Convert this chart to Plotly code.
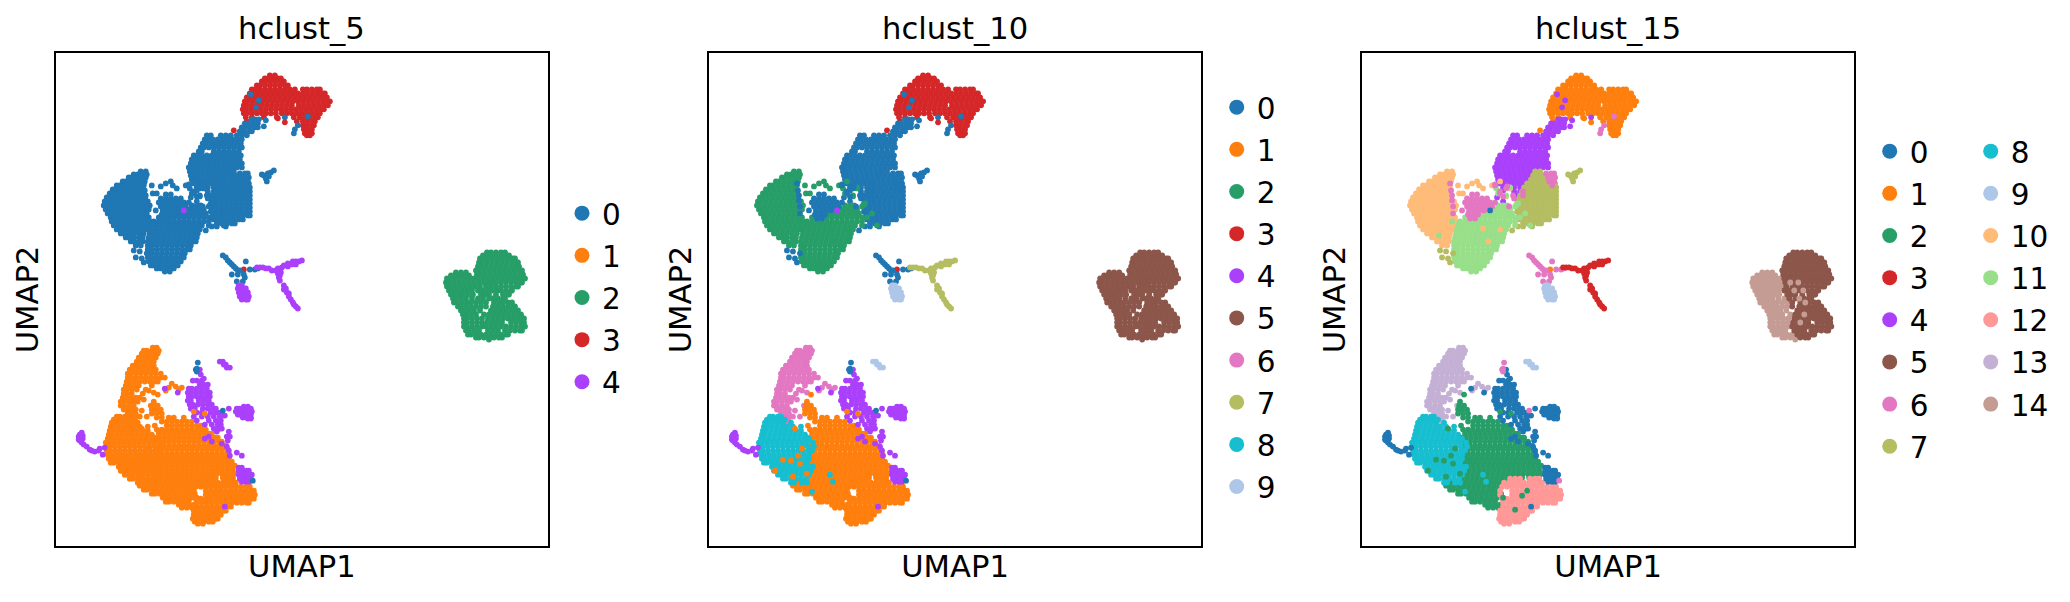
import plotly.graph_objects as go
from plotly.subplots import make_subplots

red_top = [
    (470, [214, 219]),
    (467, [209, 212, 217, 222, 225]),
    (464, [206, 210, 215, 220, 225, 228]),
    (460, [201, 204, 209, 214, 219, 224, 229, 232]),
    (456, [196, 199, 204, 209, 214, 219, 224, 229, 234, 239, 247, 251, 256, 261, 264]),
    (452, [194, 197, 202, 207, 212, 217, 222, 227, 232, 237, 242, 247, 252, 257, 262, 267, 269]),
    (448, [191, 194, 199, 204, 209, 214, 219, 224, 229, 234, 239, 244, 249, 254, 259, 264, 269, 271]),
    (444, [189, 192, 197, 202, 207, 212, 217, 222, 227, 232, 237, 242, 247, 252, 257, 262, 267, 272, 274]),
    (440, [188, 191, 196, 201, 206, 211, 216, 221, 226, 231, 236, 243, 248, 253, 258, 263, 268, 272]),
    (436, [187, 190, 195, 200, 205, 210, 215, 220, 225, 230, 235, 240, 245, 250, 255, 260, 265, 268]),
    (432, [188, 191, 196, 201, 206, 210, 215, 220, 226, 231, 236, 241, 246, 251, 256, 261, 264]),
    (428, [190, 196, 208, 221, 238, 244, 249, 254, 259, 262]),
    (424, [191, 241, 247, 252, 257, 259]),
    (423, [229]),
    (427, [222]),
    (420, [247, 251, 256, 258]),
    (416, [248, 252, 256]),
    (415, [178]),
    (412, [249, 253, 256]),
    (410, [251, 254]),
    (276, [188]),
]
arm_upper = [
    (426, [196, 199, 203]),
    (422, [189, 192, 197, 202]),
    (418, [186, 189, 194, 199, 202]),
    (414, [184, 188, 193, 196]),
    (410, [151, 155, 165, 170, 175, 181, 186, 191]),
    (406, [149, 152, 157, 162, 167, 172, 177, 182, 186]),
    (402, [147, 150, 155, 160, 165, 170, 175, 180, 185]),
    (398, [145, 148, 153, 158, 163, 168, 173, 178, 183, 186]),
    (394, [143, 146, 158, 163, 168, 173, 178, 183]),
    (390, [138, 141, 146, 151, 156, 161, 166, 171, 176, 181, 185]),
    (386, [136, 139, 144, 149, 154, 159, 164, 169, 174, 179, 184]),
    (382, [135, 138, 143, 148, 153, 158, 163, 168, 173, 178, 183, 186]),
    (378, [133, 136, 141, 146, 151, 156, 161, 166, 171, 176, 181, 186]),
    (374, [134, 137, 142, 147, 152, 157, 162, 167, 172]),
    (370, [135, 138, 143, 148, 153, 158, 163, 168]),
    (366, [136, 139, 144, 149, 154, 159, 164]),
    (362, [138, 141, 146, 151, 156, 161]),
    (358, [141, 146, 152, 158, 164]),
    (355, [141]),
    (354, [152, 158, 163]),
    (350, [155, 161]),
    (348, [135]),
    (346, [165]),
    (344, [141]),
    (333, [146]),
]
lobe_right = [
    (374, [173, 178]),
    (370, [171, 176, 181]),
    (366, [169, 174, 179, 184, 189]),
    (362, [165, 170, 175, 180, 185, 190, 193]),
    (358, [162, 167, 172, 177, 182, 187, 192, 194]),
    (354, [160, 165, 170, 175, 180, 185, 190, 194]),
    (350, [158, 163, 168, 173, 178, 183, 188, 193, 194]),
    (346, [156, 161, 166, 171, 176, 181, 186, 191, 194]),
    (342, [155, 160, 165, 170, 175, 180, 185, 190, 194]),
    (338, [156, 161, 166, 171, 176, 181, 186, 191, 194]),
    (334, [155, 160, 165, 170, 175, 180, 185, 190, 194]),
    (330, [157, 162, 167, 172, 177, 182, 187, 192, 194]),
    (326, [158, 163, 168, 173, 178, 183, 187]),
    (322, [161, 166, 171, 176, 179]),
    (319, [156, 161, 170]),
    (315, [150]),
]
patch_right = [
    (372, [184, 189, 192]),
    (368, [186, 190, 193]),
    (364, [187, 192]),
    (360, [190]),
]
bridge = [
    (361, [133]),
    (359, [145]),
    (354, [138, 161]),
    (351, [110, 115]),
    (350, [151]),
    (349, [141]),
    (347, [105, 110, 115, 120, 125, 152]),
    (343, [103, 108, 113, 118, 123, 128, 133]),
    (339, [105, 110, 115, 120, 125, 130, 91, 147]),
    (335, [100, 107, 112, 117, 122]),
    (331, [106, 111, 116]),
    (327, [108, 113]),
    (362, [88]),
    (355, [89]),
    (350, [90, 161]),
    (345, [90]),
    (332, [91]),
    (360, [133]),
    (352, [138]),
    (357, [144]),
]
lobe_left = [
    (374, [85, 90]),
    (371, [78, 82, 87, 91]),
    (368, [73, 76, 81, 86, 90]),
    (364, [67, 70, 75, 80, 85, 89, 115, 138]),
    (362, [110]),
    (360, [61, 64, 69, 74, 79, 84, 88, 96, 117, 130]),
    (359, [105]),
    (357, [121, 148]),
    (356, [57, 60, 65, 70, 75, 80, 85]),
    (352, [54, 57, 62, 67, 72, 77, 82, 87, 97, 101]),
    (349, [144]),
    (348, [51, 54, 59, 64, 69, 74, 79, 84, 89]),
    (344, [49, 52, 57, 62, 67, 72, 77, 82, 87, 92]),
    (340, [48, 51, 56, 61, 66, 71, 76, 81, 86, 91, 94]),
    (336, [50, 53, 58, 63, 68, 73, 78, 83, 88, 93]),
    (332, [52, 55, 60, 65, 70, 75, 80, 85, 90]),
    (328, [55, 58, 63, 68, 73, 78, 83, 88, 93]),
    (324, [56, 59, 64, 69, 74, 79, 84, 89, 94]),
    (320, [58, 61, 66, 71, 76, 81, 86, 91]),
    (316, [61, 64, 69, 74, 79, 84, 89, 93]),
    (312, [65, 68, 73, 78, 83, 88]),
    (308, [70, 73, 78, 83, 87]),
    (304, [75, 78, 83, 87]),
    (300, [80, 85, 95]),
]
lobe_low = [
    (358, [148]),
    (357, [134]),
    (352, [136]),
    (350, [144]),
    (342, [156]),
    (340, [136, 141, 145, 154]),
    (339, [153]),
    (336, [119, 124, 129, 134, 139, 144, 148]),
    (332, [115, 120, 125, 130, 135, 140, 145, 150, 163]),
    (328, [103, 108, 113, 118, 123, 128, 133, 138, 143, 148, 153, 158]),
    (324, [98, 103, 108, 113, 118, 123, 128, 133, 138, 143, 148, 153]),
    (320, [96, 101, 106, 111, 116, 121, 126, 131, 136, 141, 146, 153, 168]),
    (316, [95, 100, 105, 110, 115, 120, 125, 130, 135, 140, 144]),
    (312, [94, 99, 104, 109, 114, 119, 124, 129, 134, 139, 142]),
    (308, [93, 98, 103, 108, 113, 118, 123, 128, 133, 138, 141]),
    (304, [92, 97, 102, 107, 112, 117, 122, 127, 132, 137, 140]),
    (300, [92, 96, 101, 106, 111, 116, 121, 126, 131, 135]),
    (296, [92, 96, 101, 106, 111, 116, 121, 126, 131, 134]),
    (292, [92, 96, 101, 106, 111, 116, 121, 126, 129]),
    (288, [92, 95, 100, 105, 110, 115, 120, 125, 128]),
    (284, [93, 96, 101, 106, 111, 116, 121, 125]),
    (280, [95, 98, 103, 108, 113, 118, 122]),
    (277, [101, 105, 110, 115, 118]),
    (274, [109, 114]),
]
satellite = [
    (375, [218]),
    (373, [215]),
    (372, [212]),
    (371, [206]),
    (370, [208]),
    (369, [213]),
    (367, [210]),
    (364, [211]),
    (295, [78]),
    (294, [84]),
    (292, [91]),
    (288, [80]),
    (287, [86]),
    (283, [88]),
]
tripod_stem = [
    (290, [167]),
    (288, [170]),
    (285, [172]),
    (283, [174]),
    (281, [176]),
    (279, [178]),
    (277, [180, 202]),
    (276, [194, 199]),
    (275, [182, 184]),
    (284, [190]),
    (271, [176, 182, 188]),
    (268, [189]),
    (264, [181, 187]),
]
tripod_arms = [
    (285, [246]),
    (284, [243, 240, 237]),
    (282, [232]),
    (281, [240, 236]),
    (280, [228]),
    (279, [232]),
    (278, [201, 204, 207, 226]),
    (277, [210, 213, 222]),
    (275, [216, 224, 220]),
    (273, [225]),
    (272, [222]),
    (270, [224]),
    (268, [223]),
    (265, [224]),
    (260, [228]),
    (257, [230]),
    (256, [228]),
    (253, [231]),
    (252, [233]),
    (249, [233]),
    (246, [235]),
    (243, [237]),
    (241, [238]),
    (239, [240]),
    (237, [242]),
]
tripod_blob = [
    (260, [183, 186]),
    (257, [182, 184, 188, 190]),
    (253, [183, 185, 189, 192]),
    (249, [184, 187, 191, 193]),
    (246, [186, 190, 192]),
    (184, [164, 167]),
    (181, [168, 170]),
    (178, [171, 174]),
]
ball_left = [
    (273, [400, 405, 410]),
    (270, [395, 398, 403, 408, 413]),
    (267, [391, 394, 399, 404, 409, 414, 418]),
    (263, [390, 393, 398, 403, 408, 413, 418]),
    (259, [391, 394, 399, 404, 409, 414, 419]),
    (255, [393, 396, 401, 406, 411, 416]),
    (251, [395, 398, 403, 407, 412, 417]),
    (247, [397, 400, 405, 410, 416, 422]),
    (243, [398, 401, 406, 411, 415, 420, 425]),
    (239, [402, 405, 410, 415, 420, 425]),
    (235, [405, 408, 413, 418, 424]),
    (231, [407, 410, 415, 420, 428]),
    (227, [408, 411, 416, 421, 426]),
    (223, [408, 411, 416, 421, 426]),
    (219, [408, 411, 416, 421, 426]),
    (215, [410, 413, 418, 423]),
    (211, [412, 415, 420, 425, 430]),
    (208, [420, 423, 428, 433]),
    (206, [433]),
]
ball_right = [
    (293, [431, 435, 440, 445, 449]),
    (290, [427, 430, 435, 440, 445, 450, 453]),
    (287, [424, 427, 432, 437, 442, 447, 452, 457, 459]),
    (283, [423, 426, 431, 436, 441, 446, 451, 456, 461, 462]),
    (279, [422, 425, 430, 435, 440, 445, 450, 455, 460, 463]),
    (275, [420, 423, 428, 433, 438, 443, 448, 453, 458, 463, 466]),
    (271, [421, 424, 429, 434, 439, 444, 449, 454, 459, 464, 467]),
    (267, [422, 427, 432, 437, 442, 447, 452, 457, 462, 467, 469]),
    (263, [423, 432, 440, 445, 450, 455, 460, 465, 466]),
    (259, [424, 430, 435, 440, 445, 450, 455, 460, 462]),
    (255, [422, 427, 436, 441, 445, 450, 455, 456]),
    (251, [425, 429, 433, 440, 447, 452, 453]),
    (247, [427, 433, 438, 442, 447, 449]),
    (243, [430, 438, 447, 452, 456]),
    (239, [430, 437, 442, 447, 452, 457, 459]),
    (235, [435, 440, 445, 450, 455, 460, 462]),
    (231, [433, 438, 443, 448, 453, 458, 463, 465]),
    (227, [432, 437, 442, 447, 452, 457, 462, 467, 468]),
    (223, [431, 436, 441, 446, 455, 460, 465, 468]),
    (219, [430, 435, 440, 445, 450, 455, 460, 465, 469]),
    (215, [432, 437, 442, 449, 454, 459, 464, 466]),
    (211, [435, 440, 445, 450, 452]),
    (208, [438, 443, 446]),
]
ball_mixed = [
    (263, [428, 436]),
    (255, [432, 441]),
    (247, [437]),
    (243, [443]),
    (231, [442]),
    (223, [438]),
]
streak_up = [
    (198, [97, 101]),
    (195, [88, 91, 96, 101, 103]),
    (192, [86, 89, 94, 99, 102]),
    (188, [83, 86, 91, 96, 100]),
    (184, [81, 84, 89, 94, 98]),
    (180, [77, 80, 85, 90, 95, 98]),
    (176, [74, 77, 82, 87, 92, 97, 100]),
    (172, [72, 75, 80, 85, 90, 95, 100, 105]),
    (168, [72, 75, 80, 85, 90, 95, 100, 105, 109]),
    (164, [71, 74, 79, 84, 89, 94, 99, 102]),
    (162, [116]),
    (160, [70, 73, 78, 83, 96]),
    (159, [120]),
    (158, [113, 126]),
    (156, [68, 71, 76, 81, 90, 123]),
    (155, [110, 93]),
    (153, [98]),
    (152, [68, 71, 76, 87]),
    (148, [67, 70, 75, 80, 84]),
    (146, [88]),
    (144, [65, 68, 73, 78, 82]),
    (142, [98]),
    (140, [65, 68, 73, 78, 95]),
    (136, [68, 71, 76, 80]),
    (135, [86]),
    (132, [72, 76, 80]),
    (129, [84, 91]),
    (128, [74, 78, 80]),
    (124, [75, 79]),
    (120, [76, 79]),
    (114, [74]),
]
fan_core = [
    (140, [97, 102]),
    (136, [96, 100, 105]),
    (132, [96, 101, 106]),
    (128, [101, 106, 113, 118, 128]),
    (124, [106, 111, 116, 121, 126, 131, 136]),
    (120, [99, 111, 116, 121, 126, 131, 136, 141, 145]),
    (116, [101, 106, 111, 116, 121, 126, 131, 136, 141, 146, 150]),
    (112, [103, 108, 113, 118, 123, 128, 133, 138, 143, 148, 153, 156]),
    (108, [99, 104, 109, 114, 119, 124, 129, 134, 139, 144, 149, 154, 159, 162]),
    (104, [98, 103, 108, 113, 118, 123, 128, 133, 138, 143, 148, 153, 158, 163, 166]),
    (100, [103, 108, 113, 118, 123, 128, 133, 138, 143, 148, 153, 158, 163, 168, 170]),
    (96, [101, 106, 111, 116, 121, 126, 131, 136, 141, 146, 151, 156, 161, 166, 171, 172]),
    (92, [101, 106, 111, 116, 121, 126, 131, 136, 141, 146, 151, 156, 161, 166, 171, 173]),
    (88, [100, 105, 110, 115, 120, 125, 130, 135, 140, 145, 150, 155, 160, 165, 170, 173]),
    (84, [103, 108, 113, 118, 123, 128, 133, 138, 143, 148, 153, 158, 163, 168, 173, 176]),
    (80, [101, 106, 111, 116, 121, 126, 131, 136, 141, 146, 151, 156, 161, 166, 171, 176, 179]),
    (76, [102, 107, 112, 117, 122, 127, 132, 137, 142, 147, 152, 157, 162, 167, 172, 177]),
    (72, [101, 106, 111, 116, 121, 126, 131, 136, 141, 146, 151, 156, 161, 166, 171, 176, 179]),
    (68, [100, 105, 110, 115, 120, 125, 130, 135, 140, 145, 150, 155, 160, 167, 172, 177]),
    (64, [86, 89, 94, 99, 104, 109, 114, 119, 124, 129, 134, 139, 144]),
    (60, [84, 87, 92, 97, 102, 107, 112, 117, 122, 127, 132, 137]),
    (56, [88, 91, 96, 101, 106, 111, 116, 121, 126, 131, 136]),
    (52, [96, 99, 104, 109, 114, 119, 124, 129, 134, 139]),
    (48, [107, 110, 115, 120, 125, 130, 135]),
    (44, [110, 113, 118, 123, 128, 133]),
    (41, [123, 128, 133, 138]),
    (38, [126, 131, 136]),
]
fan_left = [
    (129, [61, 64, 69, 72]),
    (126, [58, 61, 66, 71, 76]),
    (123, [56, 59, 64, 69, 74, 82]),
    (119, [55, 58, 63, 68, 73, 78, 84, 92]),
    (115, [54, 57, 62, 67, 72, 77, 82, 87, 92]),
    (111, [53, 56, 61, 66, 71, 76, 81, 86, 91, 96]),
    (107, [52, 55, 60, 65, 70, 75, 80, 85, 90, 95, 100]),
    (103, [50, 53, 58, 63, 68, 73, 78, 83, 88, 93, 98, 104]),
    (99, [51, 54, 59, 64, 69, 74, 79, 84, 89, 94, 99, 105]),
    (95, [51, 54, 59, 64, 69, 74, 79, 84, 89, 94, 99, 103]),
    (91, [52, 55, 60, 65, 70, 75, 80, 85, 90, 95, 100]),
    (87, [53, 56, 61, 66, 71, 76, 81, 86, 91, 96, 100]),
    (83, [55, 58, 63, 68, 73, 78, 83, 88, 93, 98]),
    (79, [63, 66, 71, 76, 81, 86, 91, 96, 100, 104]),
    (75, [65, 68, 73, 78, 83, 88, 93, 98, 102]),
    (71, [69, 72, 77, 82, 87, 92, 97, 100, 121]),
    (67, [74, 77, 82, 87, 92, 97]),
    (64, [124]),
    (63, [82, 85, 93, 98]),
    (54, [103]),
]
fan_tip = [
    (67, [148, 153, 158, 168, 173, 177]),
    (63, [142, 147, 152, 157, 162, 167, 172, 177, 180]),
    (59, [140, 145, 150, 155, 160, 165, 170, 175, 180, 185, 190, 194]),
    (55, [138, 150, 155, 160, 165, 170, 175, 180, 185, 190, 195, 198]),
    (51, [138, 150, 152, 157, 162, 167, 172, 177, 182, 187, 192, 197, 199]),
    (47, [140, 145, 150, 155, 160, 165, 170, 175, 180, 185, 190, 195, 198]),
    (43, [141, 146, 151, 156, 161, 166, 171, 176, 181, 186, 191, 193]),
    (39, [141, 146, 151, 156, 161, 166, 171, 175]),
    (35, [138, 143, 148, 153, 158, 163, 168, 170]),
    (31, [138, 141, 146, 151, 156, 161, 165]),
    (27, [137, 140, 145, 150, 155, 160, 162]),
    (24, [139, 143, 148, 153, 157]),
    (22, [142, 147]),
]
crest = [
    (176, [144]),
    (171, [145]),
    (167, [148]),
    (165, [137, 141, 146]),
    (161, [144, 148, 152]),
    (157, [133, 136, 141, 146, 151, 109]),
    (153, [132, 135, 140, 145, 150, 154, 122]),
    (149, [133, 136, 141, 146, 151, 154]),
    (145, [132, 135, 143, 148, 153]),
    (141, [134, 137, 142, 147, 152, 156]),
    (137, [135, 139, 147, 152, 157, 160, 173]),
    (133, [141, 146, 155, 160, 163]),
    (130, [167, 169]),
    (129, [138, 146, 152, 158, 164]),
    (125, [141, 153, 160, 165]),
    (121, [149, 156, 162, 165]),
    (117, [158, 162, 166]),
    (335, [128]),
]
clump = [
    (139, [188, 192]),
    (137, [181, 184, 188, 192, 195]),
    (134, [180, 182, 186, 190, 194, 196]),
    (131, [182, 184, 188, 192, 195]),
    (128, [187, 191, 195]),
    (127, [192, 195]),
]
spray = [
    (117, [164]),
    (114, [161, 173]),
    (109, [153, 171, 174]),
    (107, [149]),
    (105, [172]),
    (104, [156]),
    (102, [166]),
    (99, [171]),
    (95, [173]),
    (93, [181]),
    (90, [174, 186]),
    (78, [183, 186]),
    (75, [183, 187, 191, 193]),
    (71, [183, 186, 190, 194, 196]),
    (67, [184, 188, 192, 195]),
    (64, [186, 190, 193]),
    (39, [169]),
]
tail = [
    (113, [26]),
    (111, [24]),
    (110, [27]),
    (109, [23]),
    (108, [25]),
    (107, [27]),
    (106, [23]),
    (105, [24]),
    (103, [26]),
    (101, [28]),
    (99, [31]),
    (98, [49]),
    (97, [44]),
    (96, [34]),
    (95, [36, 43]),
    (94, [39]),
    (91, [47]),
]
crest_tip = [
    (183, [142]),
    (177, [141]),
    (176, [140]),
    (174, [141]),
    (135, [167]),
    (65, [197]),
]
strays_arm = [
    (451, [195]),
    (445, [203]),
    (438, [200]),
    (428, [229]),
    (425, [210]),
    (419, [208]),
]
strays_stem = [
    (429, [252]),
    (420, [242]),
    (416, [239]),
    (412, [238]),
]
strays_low = [
    (324, [90]),
    (322, [97]),
    (310, [77]),
]
strays_left = [
    (317, [121]),
    (316, [138]),
    (304, [126]),
]
strays_core = [
    (151, [102]),
    (144, [98]),
    (134, [138]),
    (132, [149]),
    (117, [86]),
    (97, [93]),
    (90, [89]),
    (86, [74]),
    (85, [82]),
    (82, [91]),
    (75, [66]),
    (72, [98]),
    (69, [84]),
    (55, [165]),
    (50, [160]),
    (48, [141]),
    (36, [153]),
]

# (cells, hclust_5, hclust_10, hclust_15), in drawing order
regions = [
    (red_top, 3, 3, 1),
    (arm_upper, 0, 0, 4),
    (lobe_right, 0, 0, 7),
    (patch_right, 0, 0, 6),
    (lobe_left, 0, 2, 10),
    (lobe_low, 0, 2, 11),
    (bridge, 0, 0, 6),
    (satellite, 0, 0, 7),
    (tripod_stem, 0, 0, 6),
    (tripod_arms, 4, 7, 3),
    (tripod_blob, 4, 9, 9),
    (ball_left, 2, 5, 14),
    (ball_right, 2, 5, 5),
    (ball_mixed, 2, 5, 14),
    (streak_up, 1, 6, 13),
    (fan_core, 1, 1, 2),
    (fan_left, 1, 8, 8),
    (fan_tip, 1, 1, 12),
    (crest, 4, 4, 0),
    (clump, 4, 4, 0),
    (spray, 4, 4, 0),
    (tail, 4, 4, 0),
    (crest_tip, 0, 0, 6),
    (strays_arm, 0, 0, 4),
    (strays_stem, 0, 0, 6),
    (strays_low, 0, 2, 11),
    (strays_left, 0, 2, 10),
    (strays_core, 1, 1, 2),
]

panel_titles = ["hclust_5", "hclust_10", "hclust_15"]
palette = ["#1f77b4", "#ff7f0e", "#279e68", "#d62728", "#aa40fc", "#8c564b", "#e377c2", "#b5bd61",
           "#17becf", "#aec7e8", "#ffbb78", "#98df8a", "#ff9896", "#c5b0d5", "#c49c94"]
legend_labels = [
    [[0, 1, 2, 3, 4]],
    [[0, 1, 2, 3, 4, 5, 6, 7, 8, 9]],
    [[0, 1, 2, 3, 4, 5, 6, 7], [8, 9, 10, 11, 12, 13, 14]],
]

# the page keeps its 8px body margin, so the figure is that much smaller than the window
PAGE_MARGIN = 8
W, H = 2070 - PAGE_MARGIN, 602 - PAGE_MARGIN
FONT = "DejaVu Sans"
LEFTS = [x - PAGE_MARGIN for x in (55.7, 708.9, 1362.0)]
TOP, BOTTOM, SIDE = 53.3 - PAGE_MARGIN, 545.7 - PAGE_MARGIN, 492.3
# left edge and top edge of every legend box, in window pixels
LEGEND_BOXES = [[(562, 187.5)], [(1216.7, 81.5)], [(1869.7, 125.5), (1970.7, 125.5)]]
LEGEND_GAP = 0.8


def flatten(rows):
    xs, ys = [], []
    for y, row in rows:
        for x in row:
            xs.append(x)
            ys.append(y)
    return xs, ys


fig = make_subplots(rows=1, cols=3)

legend_no = 0
for col, title in enumerate(panel_titles, start=1):
    for region in regions:
        xs, ys = flatten(region[0])
        label = region[col]
        fig.add_trace(
            go.Scatter(x=xs, y=ys, mode="markers", showlegend=False, name=str(label),
                       marker=dict(size=5.8, color=palette[label], line=dict(width=0))),
            row=1, col=col
        )
    for labels, box in zip(legend_labels[col - 1], LEGEND_BOXES[col - 1]):
        legend_no += 1
        legend_id = "legend" if legend_no == 1 else f"legend{legend_no}"
        for label in labels:
            fig.add_trace(
                go.Scatter(x=[None], y=[None], mode="markers", name=str(label),
                           legend=legend_id, legendgroup=f"{col}-{label}",
                           marker=dict(size=15, color=palette[label], line=dict(width=0))),
                row=1, col=col
            )
        fig.update_layout({legend_id: dict(
            x=(box[0] - PAGE_MARGIN) / W, y=1 - (box[1] - PAGE_MARGIN) / H, xanchor="left", yanchor="top",
            bgcolor="rgba(0,0,0,0)", tracegroupgap=LEGEND_GAP, itemclick=False, itemdoubleclick=False,
            font=dict(family=FONT, size=29.5, color="black"),
        )})

    fig.update_xaxes(
        domain=[LEFTS[col - 1] / W, (LEFTS[col - 1] + SIDE) / W], range=[0, 492],
        showgrid=False, zeroline=False, showticklabels=False, ticks="",
        showline=True, mirror=True, linecolor="black", linewidth=1.5,
        title=dict(text="UMAP1", font=dict(family=FONT, size=30.6, color="black"), standoff=9),
        row=1, col=col
    )
    fig.update_yaxes(
        domain=[(H - BOTTOM) / H, (H - TOP) / H], range=[0, 492],
        showgrid=False, zeroline=False, showticklabels=False, ticks="",
        showline=True, mirror=True, linecolor="black", linewidth=1.5,
        title=dict(text="UMAP2", font=dict(family=FONT, size=30.6, color="black"), standoff=6),
        row=1, col=col
    )
    fig.add_annotation(
        text=title, xref="x domain" if col == 1 else f"x{col} domain", yref="paper",
        x=0.5, y=(H - TOP) / H, yshift=5, xanchor="center", yanchor="bottom", showarrow=False,
        font=dict(family=FONT, size=30.6, color="black")
    )

fig.update_layout(
    width=W, height=H, margin=dict(l=0, r=0, t=0, b=0, autoexpand=False),
    plot_bgcolor="white", paper_bgcolor="white",
    font=dict(family=FONT, color="black"),
)

fig.write_html("out.html")
